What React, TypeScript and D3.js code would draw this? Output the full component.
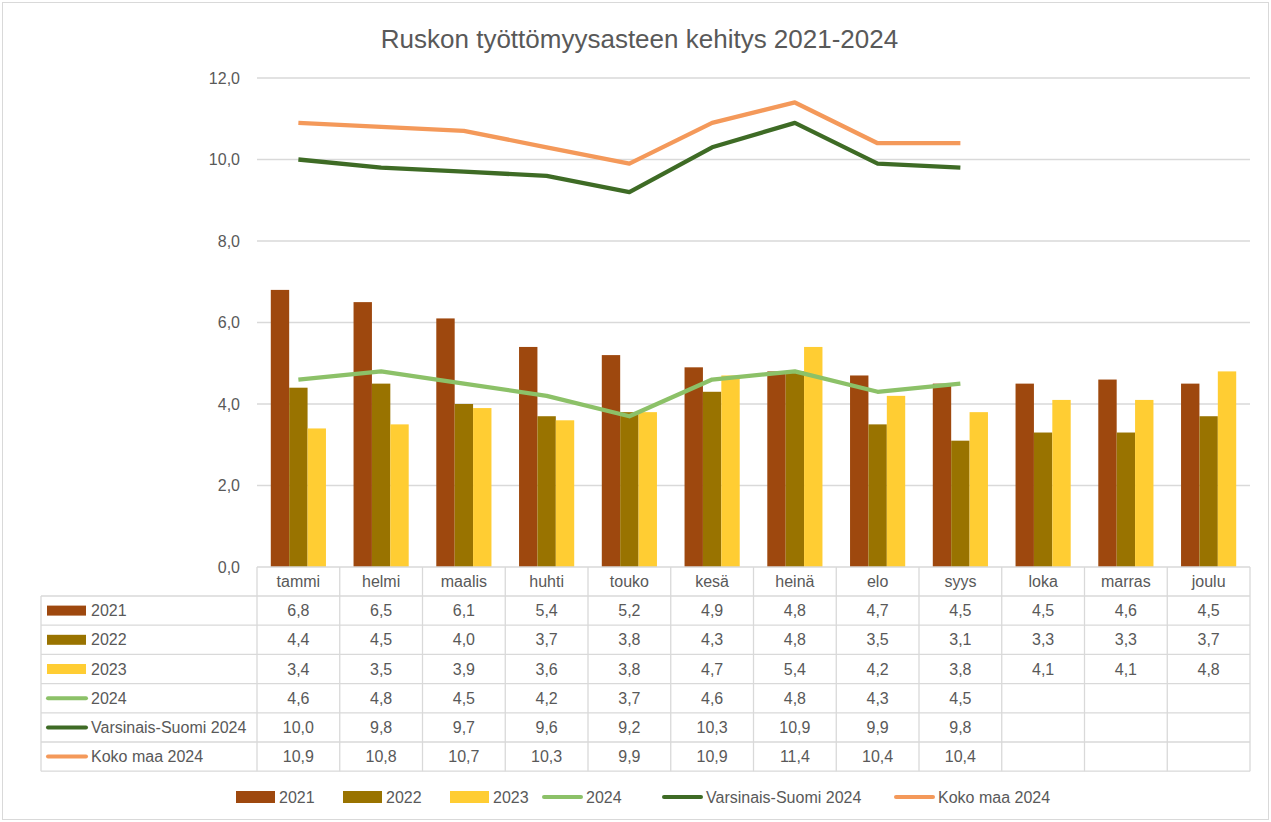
import React from "react";
import * as d3 from "d3";

const months = ["tammi", "helmi", "maalis", "huhti", "touko", "kesä", "heinä", "elo", "syys", "loka", "marras", "joulu"];
const s2021 = [6.8, 6.5, 6.1, 5.4, 5.2, 4.9, 4.8, 4.7, 4.5, 4.5, 4.6, 4.5];
const s2022 = [4.4, 4.5, 4.0, 3.7, 3.8, 4.3, 4.8, 3.5, 3.1, 3.3, 3.3, 3.7];
const s2023 = [3.4, 3.5, 3.9, 3.6, 3.8, 4.7, 5.4, 4.2, 3.8, 4.1, 4.1, 4.8];
const s2024 = [4.6, 4.8, 4.5, 4.2, 3.7, 4.6, 4.8, 4.3, 4.5];
const varsinaisSuomi2024 = [10.0, 9.8, 9.7, 9.6, 9.2, 10.3, 10.9, 9.9, 9.8];
const kokoMaa2024 = [10.9, 10.8, 10.7, 10.3, 9.9, 10.9, 11.4, 10.4, 10.4];
const yTicks = [0, 2, 4, 6, 8, 10, 12];
const title = "Ruskon työttömyysasteen kehitys 2021-2024";

type Series = { name: string; values: number[]; color: string; kind: "bar" | "line" };
const barSeries: Series[] = [
  { name: "2021", values: s2021, color: "#9E480E", kind: "bar" },
  { name: "2022", values: s2022, color: "#997300", kind: "bar" },
  { name: "2023", values: s2023, color: "#FFCD33", kind: "bar" },
];
const lineSeries: Series[] = [
  { name: "2024", values: s2024, color: "#8CC168", kind: "line" },
  { name: "Varsinais-Suomi 2024", values: varsinaisSuomi2024, color: "#3E6B25", kind: "line" },
  { name: "Koko maa 2024", values: kokoMaa2024, color: "#F4995A", kind: "line" },
];
const allSeries = [...barSeries, ...lineSeries];

const W = 1271, H = 822;
const plotL = 257, plotR = 1250, plotT = 78, plotB = 567;
const tableL = 41, rowH = 29.2, headH = 29;
const legendKeyX = [236, 343, 450, 543, 663, 895];
const legendY = 797;
const FONT = "'Liberation Sans', Arial, sans-serif";
const TXT = "#595959";
const GRID = "#D9D9D9";
const FS = 16;

const fmt = (v: number) => d3.format(".1f")(v).replace(".", ",");

export default function App() {
  const x = d3.scaleBand<string>().domain(months).range([plotL, plotR]);
  const y = d3.scaleLinear().domain([0, 12]).range([plotB, plotT]);
  const bw = x.bandwidth();
  const barW = bw / 4.5;
  const groupX = d3.scaleBand<string>().domain(barSeries.map((s) => s.name)).range([0, barW * 3]);
  const line = d3
    .line<number>()
    .x((_, i) => (x(months[i]) as number) + bw / 2)
    .y((d) => y(d));

  const tableTop = plotB + headH;

  return (
    <div style={{ position: "absolute", left: 0, top: 0 }}>
      <svg width={W} height={H} style={{ display: "block", fontFamily: FONT }}>
        <rect x={0} y={0} width={W} height={H} fill="#fff" />
        <rect x={2.5} y={2.5} width={W - 5} height={H - 5} fill="none" stroke={GRID} strokeWidth={1} />
        <text x={(plotL + plotR) / 2 - 114} y={48} textAnchor="middle" fontSize={26} fill={TXT}>
          {title}
        </text>
        {/* grid */}
        {yTicks.map((t) => (
          <g key={t}>
            {t > 0 && <line x1={plotL} x2={plotR} y1={y(t)} y2={y(t)} stroke={GRID} strokeWidth={1.3} />}
            <text x={240} y={y(t) + 5.5} textAnchor="end" fontSize={FS} fill={TXT}>
              {fmt(t)}
            </text>
          </g>
        ))}
        {/* bars */}
        {barSeries.map((s) => (
          <g key={s.name}>
            {s.values.map((v, i) => (
              <rect
                key={i}
                x={(x(months[i]) as number) + (bw - barW * 3) / 2 + (groupX(s.name) as number)}
                y={y(v)}
                width={barW}
                height={y(0) - y(v)}
                fill={s.color}
              />
            ))}
          </g>
        ))}
        {/* lines */}
        {lineSeries.map((s) => (
          <path key={s.name} d={line(s.values) || ""} fill="none" stroke={s.color} strokeWidth={4.3} strokeLinejoin="round" />
        ))}
        {/* table */}
        <g stroke={GRID} strokeWidth={1.3} fill="none">
          <line x1={plotL} x2={plotR} y1={plotB} y2={plotB} />
          {d3.range(months.length + 1).map((i) => {
            const xx = i < months.length ? (x(months[i]) as number) : plotR;
            return <line key={"v" + i} x1={xx} x2={xx} y1={plotB} y2={tableTop + rowH * allSeries.length} />;
          })}
          <line x1={tableL} x2={tableL} y1={tableTop} y2={tableTop + rowH * allSeries.length} />
          {d3.range(allSeries.length + 1).map((r) => (
            <line key={"h" + r} x1={tableL} x2={plotR} y1={tableTop + r * rowH} y2={tableTop + r * rowH} />
          ))}
        </g>
        {months.map((m) => (
          <text key={m} x={(x(m) as number) + bw / 2} y={plotB + headH / 2 + 5.5} textAnchor="middle" fontSize={FS} fill={TXT}>
            {m}
          </text>
        ))}
        {allSeries.map((s, r) => {
          const cy = tableTop + r * rowH + rowH / 2;
          return (
            <g key={s.name}>
              {s.kind === "bar" ? (
                <rect x={47} y={cy - 5} width={39} height={10} fill={s.color} />
              ) : (
                <line x1={48} x2={86} y1={cy} y2={cy} stroke={s.color} strokeWidth={4} strokeLinecap="round" />
              )}
              <text x={91} y={cy + 5.5} fontSize={FS} fill={TXT}>
                {s.name}
              </text>
              {s.values.map((v, i) => (
                <text key={i} x={(x(months[i]) as number) + bw / 2} y={cy + 5.5} textAnchor="middle" fontSize={FS} fill={TXT}>
                  {fmt(v)}
                </text>
              ))}
            </g>
          );
        })}
        {/* bottom legend */}
        {allSeries.map((s, i) => {
          const kx = legendKeyX[i];
          return (
            <g key={s.name}>
              {s.kind === "bar" ? (
                <rect x={kx} y={legendY - 6} width={39} height={12} fill={s.color} />
              ) : (
                <line x1={kx + 1} x2={kx + 38} y1={legendY} y2={legendY} stroke={s.color} strokeWidth={4} strokeLinecap="round" />
              )}
              <text x={kx + 43} y={legendY + 5.5} fontSize={FS} fill={TXT}>
                {s.name}
              </text>
            </g>
          );
        })}
      </svg>
    </div>
  );
}
